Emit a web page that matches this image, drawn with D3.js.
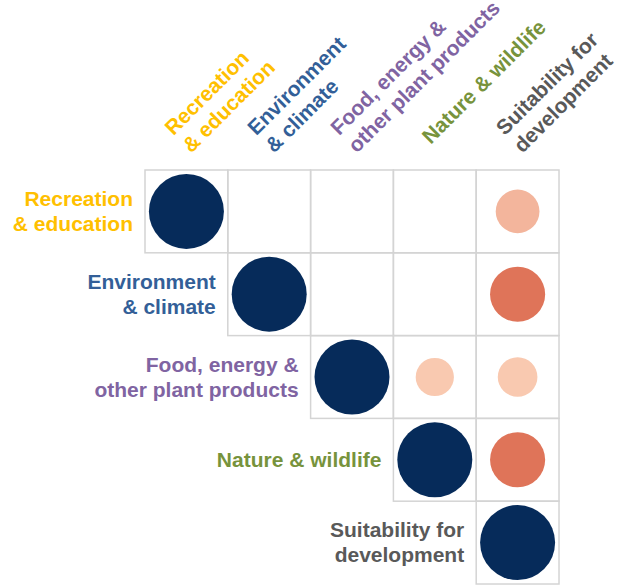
<!DOCTYPE html>
<html>
<head>
<meta charset="utf-8">
<script src="https://cdn.jsdelivr.net/npm/d3@7"></script>
<style>
  body { margin: 0; background: #fff; }
  svg { display: block; font-family: "Liberation Sans", Arial, sans-serif; font-weight: bold; }
</style>
</head>
<body>
<svg id="chart"></svg>
<script>
// categories (label lines) and their colours
const categories = [
  ["Recreation", "& education"],
  ["Environment", "& climate"],
  ["Food, energy &", "other plant products"],
  ["Nature & wildlife"],
  ["Suitability for", "development"]
];
const labelColors = ["#ffc000", "#335f98", "#8064a2", "#77933c", "#595959"];

// upper triangle of the matrix, 1 = same category, 0 = empty cell
const row0 = [1, 0, 0, 0, 0.34];
const row1 = [null, 1, 0, 0, 0.54];
const row2 = [null, null, 1, 0.26, 0.28];
const row3 = [null, null, null, 1, 0.54];
const row4 = [null, null, null, null, 1];
const matrix = [row0, row1, row2, row3, row4];

const W = 618, H = 586;
const svg = d3.select('#chart').attr('width', W).attr('height', H);

const n = categories.length;
const x = d3.scaleBand().domain(d3.range(n)).range([145, 559]);
const y = d3.scaleBand().domain(d3.range(n)).range([170, 584]);
const cell = x.bandwidth();

const r = d3.scaleSqrt().domain([0, 1]).range([0, 37.5]);
const color = d3.scaleLinear()
  .domain([0.28, 0.54])
  .range(["#f9c9b0", "#df7459"])
  .clamp(true);

const cells = [];
matrix.forEach((row, i) => {
  row.forEach((v, j) => {
    if (v !== null) cells.push({ i, j, v });
  });
});

// grid
svg.append('g')
  .selectAll('rect')
  .data(cells)
  .join('rect')
  .attr('x', d => x(d.j))
  .attr('y', d => y(d.i))
  .attr('width', cell)
  .attr('height', cell)
  .attr('fill', 'none')
  .attr('stroke', '#d4d4d4')
  .attr('stroke-width', 1.5);

// circles
svg.append('g')
  .selectAll('circle')
  .data(cells.filter(d => d.v > 0))
  .join('circle')
  .attr('cx', d => x(d.j) + cell / 2)
  .attr('cy', d => y(d.i) + cell / 2)
  .attr('r', d => r(d.v))
  .attr('fill', d => d.i === d.j ? '#062b5a' : color(d.v));

// row labels, right aligned next to the first cell of each row
const rowLab = svg.append('g').attr('font-size', 21);
categories.forEach((lines, i) => {
  const cy = y(i) + cell / 2;
  const t = rowLab.append('text')
    .attr('text-anchor', 'end')
    .attr('fill', labelColors[i]);
  lines.forEach((s, k) => {
    t.append('tspan')
      .attr('x', x(i) - 12)
      .attr('y', cy + 7 + (k - (lines.length - 1) / 2) * 25)
      .text(s);
  });
});

// column labels, rotated 45 degrees
const colLab = svg.append('g').attr('font-size', 21);
categories.forEach((lines, j) => {
  const ax = x(j) + cell / 2 - 4;
  const ay = 145;
  const t = colLab.append('text')
    .attr('transform', `translate(${ax},${ay}) rotate(-45)`)
    .attr('fill', labelColors[j]);
  lines.forEach((s, k) => {
    t.append('tspan')
      .attr('x', 0)
      .attr('y', (k - (lines.length - 1) / 2) * 25)
      .text(s);
  });
});
</script>
</body>
</html>
